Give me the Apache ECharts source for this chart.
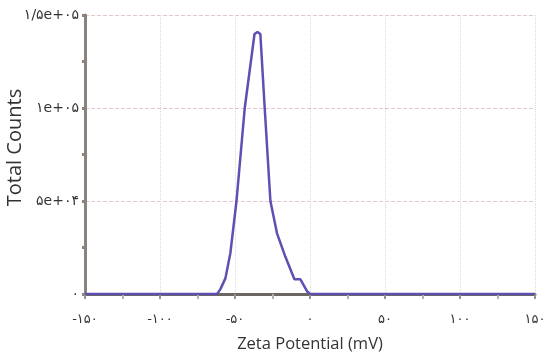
<!DOCTYPE html>
<html>
<head>
<meta charset="utf-8">
<script src="https://cdn.jsdelivr.net/npm/echarts@6/dist/echarts.min.js"></script>
<style>
  html, body { margin: 0; padding: 0; background: #fff; }
  #chart { width: 545px; height: 353px; }
</style>
</head>
<body>
<div id="chart"></div>
<script>
// zeta potential (mV) and total counts
var zeta = [-150, -62, -59.8, -56.4, -53.1, -49, -43.5, -37, -35, -33.1, -30.2, -26.4, -22, -16.4, -10.4, -6.4, -2, 0, 150];
var counts = [0, 0, 2500, 8400, 21900, 50000, 100000, 139800, 140900, 139800, 100000, 50000, 32600, 20000, 7900, 7900, 1500, 0, 0];

var xTicks = [-150, -100, -50, 0, 50, 100, 150];
var xTickLabels = ['-۱۵۰', '-۱۰۰', '-۵۰', '۰', '۵۰', '۱۰۰', '۱۵۰'];
var yTicks = [0, 50000, 100000, 150000];
var yTickLabels = ['۰', '۵e+۰۴', '۱e+۰۵', '۱/۵e+۰۵'];

var points = zeta.map(function (x, i) { return [x, counts[i]]; });

var chart = echarts.init(document.getElementById('chart'));
chart.setOption({
  animation: false,
  textStyle: { fontFamily: 'DejaVu Sans' },
  grid: { left: 85, right: 10, top: 15, bottom: 59, outerBoundsMode: 'none', containLabel: false },
  xAxis: {
    type: 'value',
    min: -150, max: 150, interval: 50,
    name: 'Zeta Potential (mV)',
    nameLocation: 'middle',
    nameGap: 42,
    nameMoveOverlap: false,
    nameTextStyle: { fontSize: 16.5, color: '#333', fontFamily: 'Open Sans' },
    axisLine: { lineStyle: { color: '#6e6660', width: 3 } },
    axisTick: { show: true, length: 5, lineStyle: { color: '#9a948c', width: 2 } },
    minorTick: { show: true, splitNumber: 2, length: 5, lineStyle: { color: '#b8b2a6', width: 2 } },
    axisLabel: {
      fontSize: 13, color: '#333', margin: 19,
      formatter: function (v) { var k = xTicks.indexOf(v); return k < 0 ? '' : xTickLabels[k]; }
    },
    splitLine: { show: true, lineStyle: { color: '#ddd8d0', type: 'dotted', width: 1 } }
  },
  yAxis: {
    type: 'value',
    min: 0, max: 150000, interval: 50000,
    name: 'Total Counts',
    nameLocation: 'middle',
    nameGap: 60,
    nameMoveOverlap: false,
    nameTextStyle: { fontSize: 20, color: '#333', fontFamily: 'Open Sans', padding: [0, 0, 0, 14] },
    axisLine: { show: true, onZero: false, lineStyle: { color: '#8a837c', width: 3 } },
    axisTick: { show: true, length: 3, lineStyle: { color: '#8a837c', width: 3 } },
    minorTick: { show: true, splitNumber: 2, length: 3, lineStyle: { color: '#8a837c', width: 3 } },
    axisLabel: {
      fontSize: 14, color: '#333', margin: 6,
      formatter: function (v) { var k = yTicks.indexOf(v); return k < 0 ? '' : yTickLabels[k]; }
    },
    splitLine: { show: true, lineStyle: { color: '#e6c8cc', type: 'dashed', width: 1 } }
  },
  series: [{
    type: 'line',
    data: points,
    showSymbol: false,
    smooth: false,
    lineStyle: { color: '#5e4fb3', width: 2.5 },
    z: 5
  }]
});
</script>
</body>
</html>
